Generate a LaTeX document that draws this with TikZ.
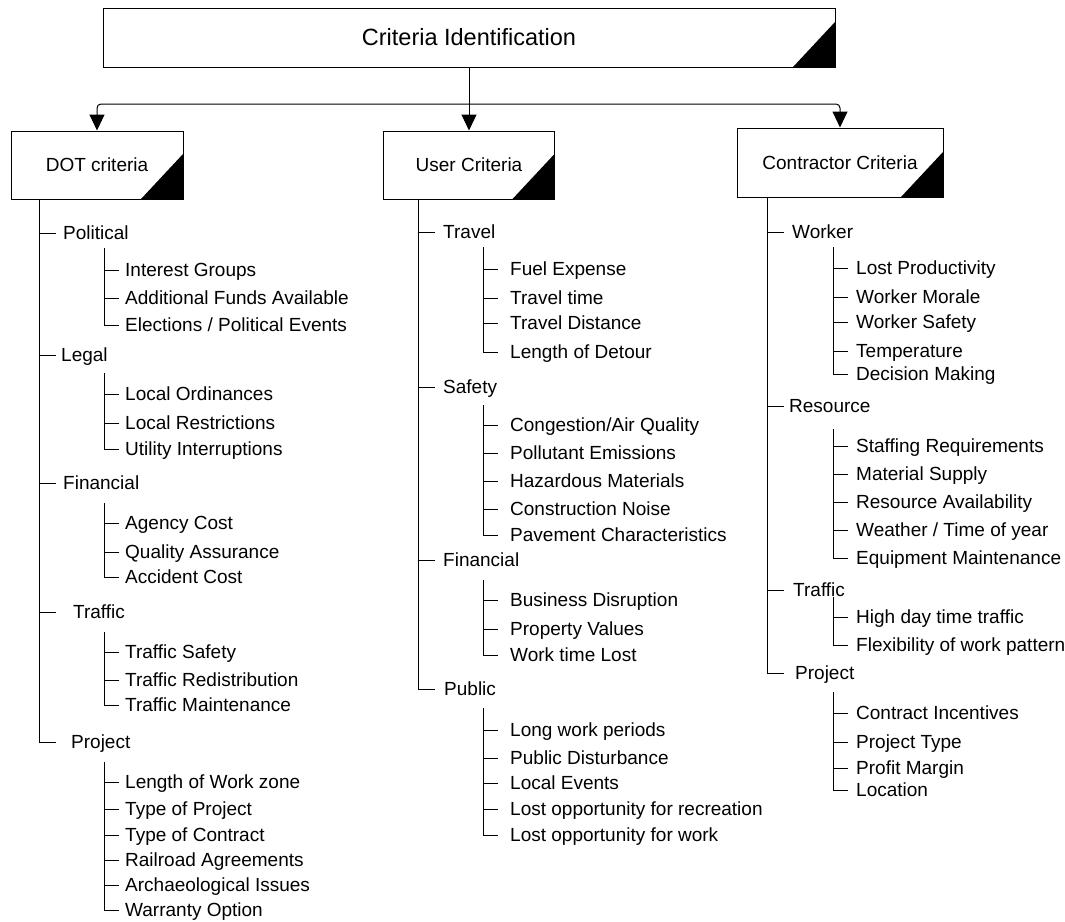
\documentclass[tikz,border=0pt]{standalone}
\usepackage{fontspec}
\setmainfont{Liberation Sans}
\usetikzlibrary{arrows.meta,calc}

\tikzset{
  critbox/.style={draw, line width=1pt, minimum width=172pt, minimum height=68pt,
    inner sep=0pt, font=\fontsize{19}{22}\selectfont,
    path picture={\fill (path picture bounding box.south east) -- ++(-42pt,0pt) -- ++(42pt,45pt) -- cycle;}},
  branch/.style={anchor=west, inner sep=0pt, text height=13pt, text depth=0pt,
    font=\fontsize{19}{22}\selectfont},
  tree/.style={line width=1pt, line cap=rect},
  flow/.style={line width=1pt, rounded corners=4pt, -{Triangle[length=16pt,width=15pt]}}
}

\begin{document}
\begin{tikzpicture}[x=1pt, y=-1pt]
  \useasboundingbox (0,0) rectangle (1065,921);

  % boxes
  \node[critbox, minimum width=732pt, minimum height=59pt, font=\fontsize{23.5}{28}\selectfont] (crit) at (469,37.5) {Criteria Identification};
  \node[critbox] (dot) at (97,165) {DOT criteria};
  \node[critbox, minimum width=171pt] (user) at (469,165) {User Criteria};
  \node[critbox, minimum width=206pt, minimum height=69pt] (contr) at (840,162.5) {Contractor Criteria};

  \coordinate (split) at (469,104);
  \draw[flow] (crit) -- (user);
  \draw[flow] (split) -| (dot);
  \draw[flow] (split) -| (contr);

  \coordinate (dspine) at (39,0);
  \coordinate (dsub) at (104,0);
  \coordinate (uspine) at (418,0);
  \coordinate (usub) at (483,0);
  \coordinate (cspine) at (767,0);
  \coordinate (csub) at (833,0);

  % DOT criteria
  \foreach \n/\x/\y/\t in {dpol/63/233/Political, dleg/61/355/Legal, dfin/63/483/Financial,
                           dtra/73/612/Traffic, dpro/71/742/Project}{
    \node[branch] (\n) at (\x,\y) {\t};
    \draw[tree] (dspine |- \n.west) -- ++(16,0);
  }
  \draw[tree] (dot.south -| dspine) -- (dspine |- dpro.west);

  \foreach \n/\y/\t in {dpol1/270/Interest Groups, dpol2/298/Additional Funds Available,
                        dpol3/325/{Elections / Political Events},
                        dleg1/394/Local Ordinances, dleg2/423/Local Restrictions, dleg3/449/Utility Interruptions,
                        dfin1/523/Agency Cost, dfin2/552/Quality Assurance, dfin3/577/Accident Cost,
                        dtra1/652/Traffic Safety, dtra2/680/Traffic Redistribution, dtra3/705/Traffic Maintenance,
                        dpro1/782/Length of Work zone, dpro2/809/Type of Project, dpro3/835/Type of Contract,
                        dpro4/860/Railroad Agreements, dpro5/885/Archaeological Issues, dpro6/910/Warranty Option}{
    \node[branch] (\n) at (125,\y) {\t};
    \draw[tree] (dsub |- \n.west) -- ++(14,0);
  }
  \draw[tree] ($(dsub |- dpol.west)+(0,15)$) -- (dsub |- dpol3.west);
  \draw[tree] ($(dsub |- dleg.west)+(0,18)$) -- (dsub |- dleg3.west);
  \draw[tree] ($(dsub |- dfin.west)+(0,20)$) -- (dsub |- dfin3.west);
  \draw[tree] ($(dsub |- dtra.west)+(0,20)$) -- (dsub |- dtra3.west);
  \draw[tree] ($(dsub |- dpro.west)+(0,20)$) -- (dsub |- dpro6.west);

  % User criteria
  \foreach \n/\x/\y/\t in {utra/443/232/Travel, usaf/443/387/Safety, ufin/443/560/Financial,
                           upub/444/689/Public}{
    \node[branch] (\n) at (\x,\y) {\t};
    \draw[tree] (uspine |- \n.west) -- ++(16,0);
  }
  \draw[tree] (user.south -| uspine) -- (uspine |- upub.west);

  \foreach \n/\y/\t in {utra1/269/Fuel Expense, utra2/298/Travel time, utra3/323/Travel Distance,
                        utra4/352/Length of Detour,
                        usaf1/425/{Congestion/Air Quality}, usaf2/453/Pollutant Emissions,
                        usaf3/481/Hazardous Materials, usaf4/509/Construction Noise,
                        usaf5/535/Pavement Characteristics,
                        ufin1/600/Business Disruption, ufin2/629/Property Values, ufin3/655/Work time Lost,
                        upub1/730/Long work periods, upub2/758/Public Disturbance, upub3/783/Local Events,
                        upub4/809/Lost opportunity for recreation, upub5/835/Lost opportunity for work}{
    \node[branch] (\n) at (510,\y) {\t};
    \draw[tree] (usub |- \n.west) -- ++(14,0);
  }
  \draw[tree] ($(usub |- utra.west)+(0,15)$) -- (usub |- utra4.west);
  \draw[tree] ($(usub |- usaf.west)+(0,18)$) -- (usub |- usaf5.west);
  \draw[tree] ($(usub |- ufin.west)+(0,20)$) -- (usub |- ufin3.west);
  \draw[tree] ($(usub |- upub.west)+(0,19)$) -- (usub |- upub5.west);

  % Contractor criteria
  \foreach \n/\x/\y/\t in {cwor/792/232/Worker, cres/789/406/Resource, ctra/793/590/Traffic,
                           cpro/795/673/Project}{
    \node[branch] (\n) at (\x,\y) {\t};
    \draw[tree] (cspine |- \n.west) -- ++(16,0);
  }
  \draw[tree] (contr.south -| cspine) -- (cspine |- cpro.west);

  \foreach \n/\y/\t in {cwor1/268/Lost Productivity, cwor2/297/Worker Morale, cwor3/322/Worker Safety,
                        cwor4/351/Temperature, cwor5/374/Decision Making,
                        cres1/446/Staffing Requirements, cres2/474/Material Supply,
                        cres3/502/Resource Availability, cres4/530/{Weather / Time of year},
                        cres5/558/Equipment Maintenance,
                        ctra1/617/High day time traffic, ctra2/645/Flexibility of work pattern,
                        cpro1/713/Contract Incentives, cpro2/742/Project Type, cpro3/768/Profit Margin,
                        cpro4/790/Location}{
    \node[branch] (\n) at (856,\y) {\t};
    \draw[tree] (csub |- \n.west) -- ++(14,0);
  }
  \draw[tree] ($(csub |- cwor.west)+(0,15)$) -- (csub |- cwor5.west);
  \draw[tree] ($(csub |- cres.west)+(0,23)$) -- (csub |- cres5.west);
  \draw[tree] ($(csub |- ctra.west)+(0,7)$) -- (csub |- ctra2.west);
  \draw[tree] ($(csub |- cpro.west)+(0,19)$) -- (csub |- cpro4.west);
\end{tikzpicture}
\end{document}
